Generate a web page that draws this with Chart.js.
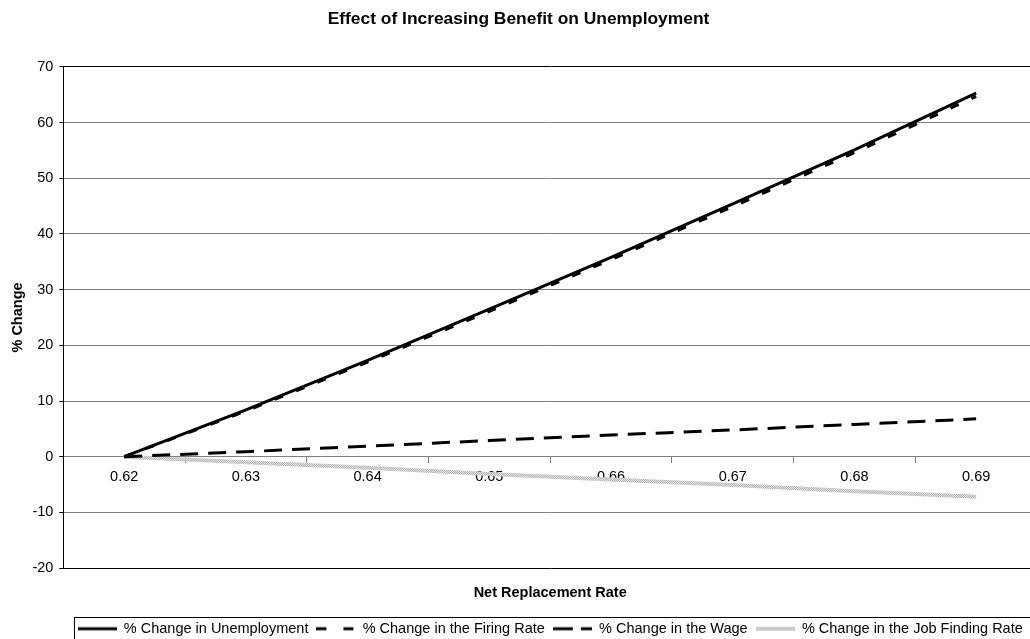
<!DOCTYPE html>
<html lang="en">
<head>
  <meta charset="UTF-8">
  <title>Effect of Increasing Benefit on Unemployment</title>
  <script src="https://cdn.jsdelivr.net/npm/chart.js"></script>
  <style>
    html, body {
      margin: 0;
      padding: 0;
      overflow: hidden;
      background: #ffffff;
    }
    canvas { display: block; }
  </style>
</head>
<body>
  <canvas id="benefitChart" width="1040" height="646"></canvas>
  <script>
    // values
    const replacementRates = ['0.62', '0.63', '0.64', '0.65', '0.66', '0.67', '0.68', '0.69'];
    const unemploymentChange = [0, 8.4, 17.3, 26.5, 35.8, 45.4, 55.1, 65.3];
    const firingRateChange = [0, 8.2, 17.0, 26.1, 35.4, 44.9, 54.6, 64.7];
    const wageChange = [0, 0.9, 1.9, 2.9, 3.9, 4.8, 5.8, 6.8];
    const jobFindingChange = [0, -1.0, -2.0, -3.1, -4.1, -5.1, -6.2, -7.2];

    Chart.defaults.font.family = "'Liberation Sans', Arial, sans-serif";
    Chart.defaults.font.size = 14.5;
    Chart.defaults.color = '#000';

    // speckled light grey, like the old spreadsheet texture
    function greyTexture(g) {
      let c = document.createElement('canvas');
      c.width = 2;
      c.height = 2;
      let p = c.getContext('2d');
      p.fillStyle = '#e2e2e2';
      p.fillRect(0, 0, 2, 2);
      p.fillStyle = '#b4b4b4';
      p.fillRect(0, 0, 1, 1);
      p.fillRect(1, 1, 1, 1);
      return g.createPattern(c, 'repeat');
    }

    // little line pictures for the legend, one per series
    function legendSample(color, dash, width) {
      let c = document.createElement('canvas');
      c.width = 39;
      c.height = 6;
      let g = c.getContext('2d');
      g.strokeStyle = color === 'texture' ? greyTexture(g) : color;
      g.lineWidth = width;
      g.setLineDash(dash);
      g.beginPath();
      g.moveTo(0, 3);
      g.lineTo(39, 3);
      g.stroke();
      return c;
    }
    const legendSamples = [
      legendSample('#000', [], 3),
      legendSample('#000', [10, 17], 3),
      legendSample('#000', [20, 8], 3),
      legendSample('texture', [], 4)
    ];

    // thin frame round the legend row
    const legendFrame = {
      id: 'legendFrame',
      afterDraw(chart) {
        const boxes = chart.legend && chart.legend.legendHitBoxes;
        if (!boxes || !boxes.length) return;
        const first = boxes[0];
        const last = boxes[boxes.length - 1];
        const ctx = chart.ctx;
        const midY = first.top + first.height / 2;
        ctx.save();
        ctx.strokeStyle = '#000';
        ctx.lineWidth = 1;
        ctx.strokeRect(Math.round(first.left) - 3.5, Math.round(midY) - 11.5,
          last.left + last.width - first.left + 12, 24);
        ctx.restore();
      }
    };

    let ctx = document.getElementById('benefitChart').getContext('2d');
    new Chart(ctx, {
      type: 'line',
      data: {
        labels: replacementRates,
        datasets: [
          {
            label: '% Change in Unemployment',
            data: unemploymentChange,
            borderColor: '#000',
            backgroundColor: 'transparent',
            borderWidth: 3
          },
          {
            label: '% Change in the Firing Rate',
            data: firingRateChange,
            borderColor: '#000',
            backgroundColor: 'transparent',
            borderWidth: 3,
            borderDash: [9, 14]
          },
          {
            label: '% Change in the Wage',
            data: wageChange,
            borderColor: '#000',
            backgroundColor: 'transparent',
            borderWidth: 3,
            borderDash: [18, 10]
          },
          {
            label: '% Change in the Job Finding Rate',
            data: jobFindingChange,
            borderColor: greyTexture(ctx),
            backgroundColor: 'transparent',
            borderWidth: 4
          }
        ]
      },
      options: {
        responsive: false,
        animation: false,
        layout: { padding: { right: 3 } },
        elements: {
          point: { radius: 0, hoverRadius: 0 },
          line: { tension: 0, borderCapStyle: 'butt' }
        },
        plugins: {
          title: {
            display: true,
            text: 'Effect of Increasing Benefit on Unemployment',
            font: { size: 17.4, weight: 'bold' },
            padding: { top: 9, bottom: 37 }
          },
          legend: {
            position: 'bottom',
            fullSize: false,
            labels: {
              usePointStyle: true,
              pointStyleWidth: 39,
              padding: 8,
              color: '#000',
              generateLabels(chart) {
                const items = Chart.defaults.plugins.legend.labels.generateLabels(chart);
                items.forEach(item => { item.pointStyle = legendSamples[item.datasetIndex]; });
                return items;
              }
            }
          },
          tooltip: { enabled: false }
        },
        scales: {
          x: {
            type: 'category',
            position: { y: 0 },
            offset: true,
            grid: {
              offset: true,
              drawOnChartArea: false,
              tickLength: 6,
              color: '#808080'
            },
            border: { color: '#808080', width: 1 },
            ticks: { padding: 6, maxRotation: 0, autoSkip: false }
          },
          xTitle: {
            type: 'category',
            position: 'bottom',
            grid: { display: false, drawTicks: false },
            border: { display: false },
            ticks: { display: false },
            title: {
              display: true,
              text: 'Net Replacement Rate',
              font: { weight: 'bold' },
              padding: { top: 16, bottom: 12 }
            }
          },
          y: {
            min: -20,
            max: 70,
            ticks: { stepSize: 10, padding: 6 },
            grid: {
              tickLength: 4,
              tickColor: '#000',
              color: c => (c.tick.value === 70 || c.tick.value === -20) ? '#000' : '#808080'
            },
            border: { color: '#000', width: 1 },
            title: {
              display: true,
              text: '% Change',
              font: { weight: 'bold' },
              padding: { top: 9, bottom: 0 }
            }
          }
        }
      },
      plugins: [legendFrame]
    });
  </script>
</body>
</html>
